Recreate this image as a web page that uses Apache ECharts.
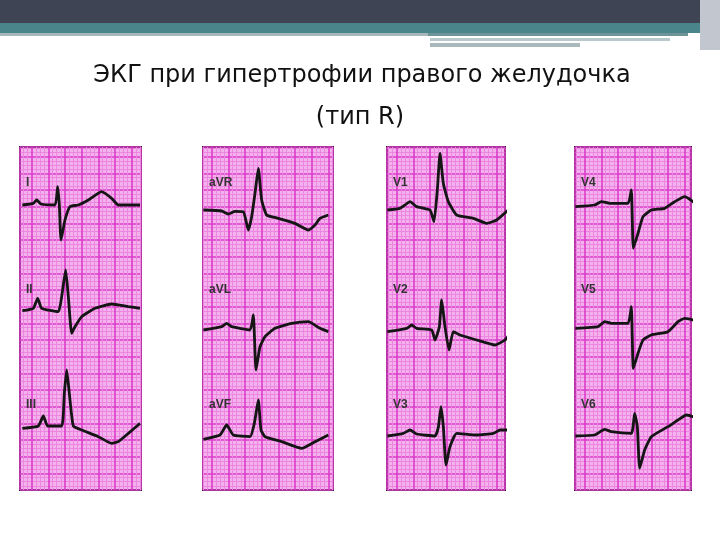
<!DOCTYPE html>
<html><head><meta charset="utf-8">
<script src="https://cdn.jsdelivr.net/npm/echarts@6/dist/echarts.min.js"></script>
<style>html,body{margin:0;padding:0;background:#fff}#c{width:720px;height:540px}</style>
</head><body><div id="c"></div>
<script>
// Trace points in each panel's local units (3x zoomed pixel coordinates)
const leadI=[[22,195],[55,190],[65,180],[78,192],[120,195],[128,140],[133,195],[138,300],[150,240],[165,200],[190,195],[220,180],[260,155],[290,175],[310,195],[375,195]];
const leadII=[[22,512],[55,505],[68,475],[80,505],[130,515],[140,470],[152,390],[160,470],[170,580],[180,560],[200,530],[240,505],[290,492],[340,500],[375,505]];
const leadIII=[[22,865],[70,858],[85,828],[98,858],[140,858],[148,760],[155,690],[163,760],[175,858],[200,870],[250,890],[290,910],[310,905],[340,880],[375,850]];
const leadAVR=[[25,210],[80,213],[100,222],[120,214],[145,215],[160,270],[170,230],[180,160],[190,85],[200,180],[215,225],[250,235],[300,250],[340,270],[360,255],[375,235],[400,225]];
const leadAVL=[[25,570],[80,560],[95,550],[110,560],[165,570],[175,525],[183,690],[195,620],[210,590],[240,565],[290,550],[340,545],[375,565],[400,575]];
const leadAVF=[[25,898],[75,885],[95,855],[115,885],[165,890],[178,850],[190,780],[198,870],[210,890],[260,905],[320,925],[360,905],[400,885]];
const leadV1=[[22,210],[60,205],[75,195],[90,185],[110,200],[150,210],[162,245],[172,150],[180,40],[190,130],[205,185],[230,225],[280,235],[320,250],[350,240],[385,210]];
const leadV2=[[22,575],[80,565],[95,555],[110,565],[155,570],[165,600],[178,560],[185,480],[195,560],[207,630],[220,575],[240,585],[290,600],[345,615],[375,600],[390,580]];
const leadV3=[[22,888],[70,880],[90,870],[110,882],[165,888],[175,862],[183,800],[190,860],[198,975],[210,920],[230,880],[290,885],[340,880],[360,870],[390,870]];
const leadV4=[[22,200],[80,195],[100,185],[125,190],[180,190],[190,150],[196,325],[210,280],[225,230],[250,210],[290,205],[320,185],[350,170],[375,185],[390,200]];
const leadV5=[[22,565],[90,560],[110,545],[130,550],[180,550],[190,500],[196,685],[210,640],[225,600],[250,585],[300,575],[330,545],[350,535],[375,540],[390,550]];
const leadV6=[[22,888],[80,885],[110,868],[130,875],[190,880],[200,820],[208,860],[215,985],[230,930],[250,890],[300,860],[330,840],[355,825],[375,830],[390,840]];
const leadNames=[["I","II","III"],["aVR","aVL","aVF"],["V1","V2","V3"],["V4","V5","V6"]];
const titleLines=["ЭКГ при гипертрофии правого желудочка","(тип R)"];

const panels=[
 {left:20,width:121,xr:[15,378],leads:[leadI,leadII,leadIII]},
 {left:203,width:130,xr:[24,414],leads:[leadAVR,leadAVL,leadAVF]},
 {left:387,width:118,xr:[21,375],leads:[leadV1,leadV2,leadV3]},
 {left:575,width:116,xr:[21,369],leads:[leadV4,leadV5,leadV6]}
];
const yr=[21,1050];
const grid=[],xAxis=[],yAxis=[],series=[];
panels.forEach((p,i)=>{
  grid.push({left:p.left,top:147,width:p.width,height:343,backgroundColor:'#f3b2ec',show:true,borderColor:'#222',borderWidth:2});
  const split={show:true,lineStyle:{color:'#dc3ccb',width:1.6}};
  const minor={show:true,lineStyle:{color:'#ec86e0',width:1}};
  xAxis.push({gridIndex:i,type:'value',min:p.xr[0],max:p.xr[1],splitNumber:8,axisLine:{show:false},axisTick:{show:false},axisLabel:{show:false},splitLine:split,minorTick:{show:false,splitNumber:4},minorSplitLine:minor});
  yAxis.push({gridIndex:i,type:'value',inverse:true,min:yr[0],max:yr[1],splitNumber:20,axisLine:{show:false},axisTick:{show:false},axisLabel:{show:false},splitLine:split,minorTick:{show:false,splitNumber:4},minorSplitLine:minor});
  p.leads.forEach(d=>series.push({type:'line',xAxisIndex:i,yAxisIndex:i,data:d,symbol:'none',smooth:0.15,lineStyle:{color:'#151515',width:2.8},silent:true}));
});
const labelY=[183,290,405];
const graphic=[
 {type:'rect',shape:{x:0,y:0,width:720,height:23},style:{fill:'#3e4454'}},
 {type:'rect',shape:{x:0,y:23,width:720,height:10},style:{fill:'#4b858c'}},
 {type:'rect',shape:{x:0,y:33,width:428,height:3},style:{fill:'#a7b6ba'}},
 {type:'rect',shape:{x:428,y:33,width:260,height:3},style:{fill:'#6e9499'}},
 {type:'rect',shape:{x:430,y:38,width:240,height:3},style:{fill:'#b9c8ca'}},
 {type:'rect',shape:{x:430,y:43,width:150,height:4},style:{fill:'#a9b8ba'}},
 {type:'rect',shape:{x:700,y:0,width:20,height:50},style:{fill:'#c2c6cf'}},
 {type:'text',x:362,y:76,style:{text:titleLines[0],font:'24px "DejaVu Sans", sans-serif',fill:'#111',align:'center',verticalAlign:'middle'}},
 {type:'text',x:360,y:118,style:{text:titleLines[1],font:'24px "DejaVu Sans", sans-serif',fill:'#111',align:'center',verticalAlign:'middle'}}
];
panels.forEach((p,i)=>leadNames[i].forEach((n,j)=>{
  graphic.push({type:'text',x:p.left+6,y:labelY[j],z:100,style:{text:n,font:'bold 12px "Liberation Sans", sans-serif',fill:'#333',verticalAlign:'middle'}});
}));
const chart=echarts.init(document.getElementById('c'));
chart.setOption({animation:false,grid,xAxis,yAxis,series,graphic});
</script></body></html>
